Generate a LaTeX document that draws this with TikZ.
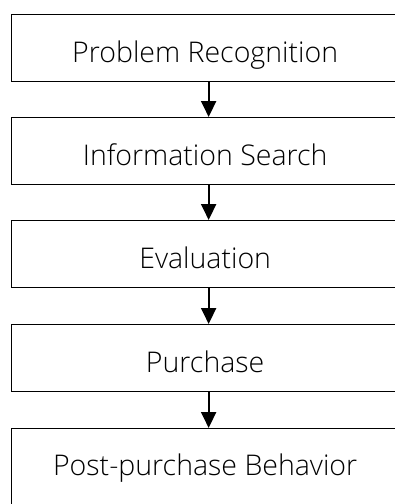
\documentclass[tikz,border=0pt]{standalone}
\usepackage{fontspec}
\setmainfont{Open Sans}[UprightFont={* Light}]
\usetikzlibrary{arrows.meta}
\begin{document}
\begin{tikzpicture}[x=1pt,y=-1pt,
  stage/.style={draw=black, line width=1.3pt, fill=white, rectangle,
    inner sep=0pt, minimum width=387pt, text height=48pt, text depth=19pt,
    font=\fontsize{28.5}{30}\selectfont, anchor=north west},
  flow/.style={line width=2pt, -{Triangle[length=16pt,width=15pt]}}]
\useasboundingbox (0,0) rectangle (395,504);
\fill[white] (0,0) rectangle (395,504);

% process stages
\node[stage] (s1) at (11,14)  {Problem Recognition};
\node[stage] (s2) at (11,117) {Information Search};
\node[stage] (s3) at (11,220) {Evaluation};
\node[stage] (s4) at (11,324) {Purchase};
\node[stage, text height=47pt, text depth=50pt] (s5) at (11,428) {Post-purchase Behavior};

% connectors
\foreach \a/\b in {s1/s2, s2/s3, s3/s4, s4/s5}
  \draw[flow] ([xshift=3.5pt]\a.south) -- ([xshift=3.5pt]\b.north);
\end{tikzpicture}
\end{document}
